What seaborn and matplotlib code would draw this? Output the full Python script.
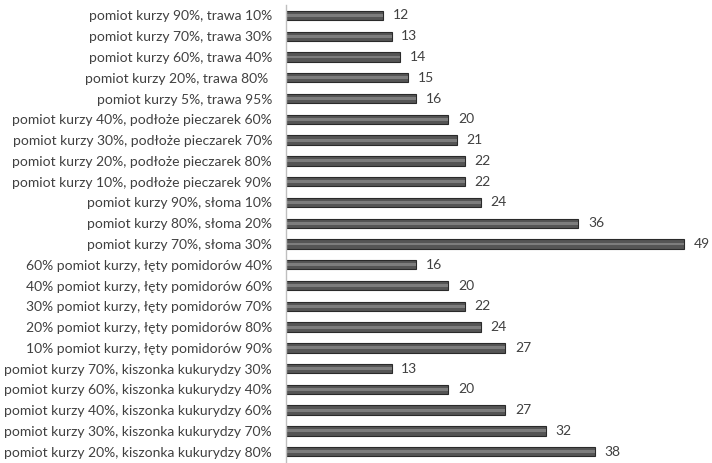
import matplotlib
matplotlib.use("Agg")
import matplotlib.pyplot as plt
import seaborn as sns
import pandas as pd

labels = [
    "pomiot kurzy 90%, trawa 10%",
    "pomiot kurzy 70%, trawa 30%",
    "pomiot kurzy 60%, trawa 40%",
    "pomiot kurzy 20%, trawa 80% ",
    "pomiot kurzy 5%, trawa 95%",
    "pomiot kurzy 40%, podłoże pieczarek 60%",
    "pomiot kurzy 30%, podłoże pieczarek 70%",
    "pomiot kurzy 20%, podłoże pieczarek 80%",
    "pomiot kurzy 10%, podłoże pieczarek 90%",
    "pomiot kurzy 90%, słoma 10%",
    "pomiot kurzy 80%, słoma 20%",
    "pomiot kurzy 70%, słoma 30%",
    "60% pomiot kurzy, łęty pomidorów 40%",
    "40% pomiot kurzy, łęty pomidorów 60%",
    "30% pomiot kurzy, łęty pomidorów 70%",
    "20% pomiot kurzy, łęty pomidorów 80%",
    "10% pomiot kurzy, łęty pomidorów 90%",
    "pomiot kurzy 70%, kiszonka kukurydzy 30%",
    "pomiot kurzy 60%, kiszonka kukurydzy 40%",
    "pomiot kurzy 40%, kiszonka kukurydzy 60%",
    "pomiot kurzy 30%, kiszonka kukurydzy 70%",
    "pomiot kurzy 20%, kiszonka kukurydzy 80%",
]
values = [12, 13, 14, 15, 16, 20, 21, 22, 22, 24, 36, 49,
          16, 20, 22, 24, 27, 13, 20, 27, 32, 38]

df = pd.DataFrame({"mix": labels, "value": values})

sns.set_style("white")
plt.rcParams["font.family"] = ["Lato", "DejaVu Sans"]

fig, ax = plt.subplots(figsize=(7.12, 4.63), dpi=100)
fig.subplots_adjust(left=0.4017, right=0.995, top=0.989, bottom=0.002)

# dark edge bar + softer inner stripe for the glossy look
sns.barplot(data=df, x="value", y="mix", orient="h", color="#555555",
            edgecolor="#2a2a2a", linewidth=0.8, width=0.45, ax=ax)
ax.bar_label(ax.containers[0], padding=7, fontsize=10, color="#404040")
sns.barplot(data=df, x="value", y="mix", orient="h", color="#7d7d7d",
            linewidth=0, width=0.14, ax=ax)

ax.set_xlim(0, 52)
ax.set_ylim(len(labels) - 0.5, -0.5)
ax.set_xlabel("")
ax.set_ylabel("")
ax.set_xticks([])
ax.tick_params(axis="y", length=0, pad=10, labelsize=10, labelcolor="#404040")
for s in ["top", "right", "bottom"]:
    ax.spines[s].set_visible(False)
ax.spines["left"].set_color("#bfbfbf")
ax.spines["left"].set_linewidth(1)

fig.savefig("out.png", dpi=100)
